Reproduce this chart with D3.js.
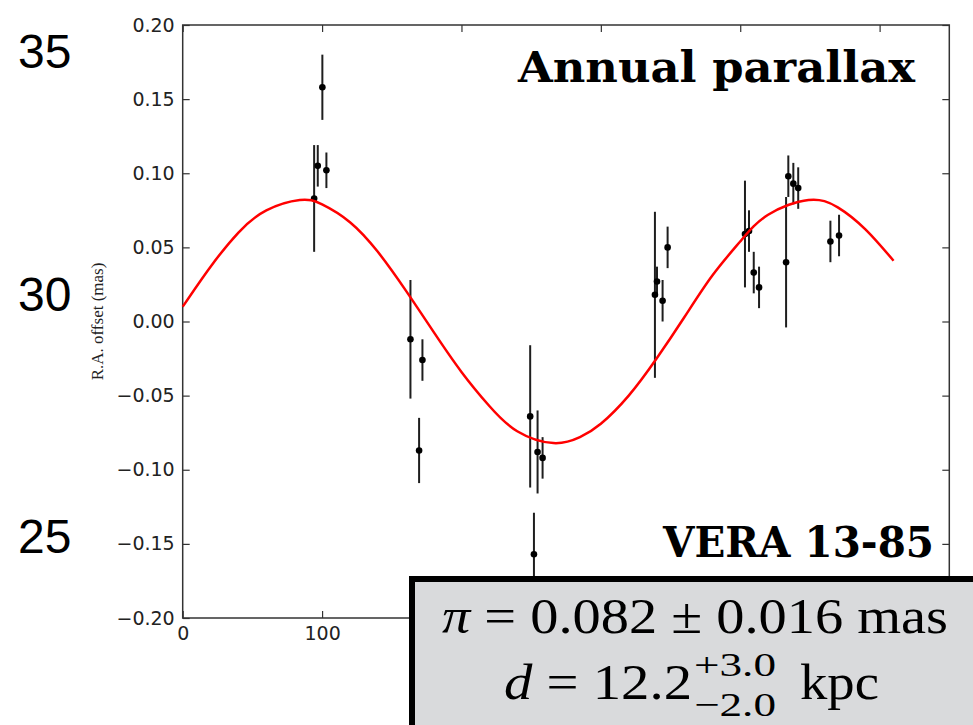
<!DOCTYPE html>
<html>
<head>
<meta charset="utf-8">
<script src="https://cdn.jsdelivr.net/npm/d3@7"></script>
<style>
  html, body { margin: 0; padding: 0; background: #fff; }
  svg { display: block; }
</style>
</head>
<body>
<svg id="chart" width="973" height="725"></svg>
<script>
// Observation epochs (days) and R.A. offsets (mas) with 1-sigma errors
const days = [94.3, 96.9, 100.2, 103.1, 163.4, 169.6, 172.0, 249.3, 252.0, 254.6, 258.2,
              338.8, 340.3, 344.3, 347.9, 403.4, 406.3, 409.7, 413.5, 432.9, 434.5, 438.1,
              441.6, 464.7, 470.9];
const raOffset = [0.083, 0.105, 0.158, 0.102, -0.012, -0.087, -0.026, -0.064, -0.157, -0.088, -0.092,
                  0.018, 0.027, 0.014, 0.050, 0.059, 0.061, 0.033, 0.023, 0.040, 0.098, 0.093,
                  0.090, 0.054, 0.058];
const raError = [0.036, 0.014, 0.022, 0.012, 0.040, 0.022, 0.014, 0.048, 0.028, 0.028, 0.014,
                 0.056, 0.010, 0.014, 0.014, 0.036, 0.014, 0.014, 0.014, 0.044, 0.014, 0.014,
                 0.014, 0.014, 0.014];

// Best-fit annual parallax motion
const modelDays = [0, 20, 40, 60, 84, 100, 120, 140, 160, 180, 200, 220, 240, 266, 285, 300,
                   320, 340, 360, 380, 400, 420, 449, 470, 490, 510];
const modelOffset = [0.010, 0.037, 0.060, 0.075, 0.082, 0.079, 0.067, 0.047, 0.021, -0.007, -0.034,
                     -0.057, -0.074, -0.082, -0.078, -0.069, -0.050, -0.025, 0.003, 0.031, 0.054,
                     0.072, 0.082, 0.077, 0.062, 0.041];

// Axis ticks
const xTicks = [0, 100, 200, 300, 400, 500];
const xTickLabels = ["0", "100"];
const yTicks = [-0.20, -0.15, -0.10, -0.05, 0.00, 0.05, 0.10, 0.15, 0.20];
const outerTicks = ["35", "30", "25"];

const svg = d3.select("#chart");
const plotLeft = 182.7, plotRight = 949.3, plotTop = 25, plotBottom = 618;

const x = d3.scaleLinear().domain([0, 550]).range([plotLeft, plotRight]);
const y = d3.scaleLinear().domain([-0.2, 0.2]).range([plotBottom, plotTop]);

// Outer axis labels
const outerY = d3.scalePoint().domain(outerTicks).range([68, 553]);
svg.append("g").selectAll("text").data(outerTicks).join("text")
  .attr("x", 18).attr("y", d => outerY(d))
  .attr("font-family", "'Liberation Sans', Arial, sans-serif")
  .attr("font-size", 48).attr("fill", "#000")
  .text(d => d);

const fmtY = v => (v < 0 ? "\u2212" : "") + Math.abs(v).toFixed(2);
const fmtX = v => (xTickLabels.includes(String(v)) ? String(v) : "");
const tickFont = "'DejaVu Sans', sans-serif";

// Left axis
const gL = svg.append("g").attr("transform", `translate(${plotLeft},0)`)
  .call(d3.axisLeft(y).tickValues(yTicks).tickFormat(fmtY).tickSizeInner(-7).tickSizeOuter(0).tickPadding(8));
// Right axis
const gR = svg.append("g").attr("transform", `translate(${plotRight},0)`)
  .call(d3.axisRight(y).tickValues(yTicks).tickFormat("").tickSizeInner(-7).tickSizeOuter(0));
// Bottom axis
const gB = svg.append("g").attr("transform", `translate(0,${plotBottom})`)
  .call(d3.axisBottom(x).tickValues(xTicks).tickFormat(fmtX).tickSizeInner(-7).tickSizeOuter(0).tickPadding(9));
// Top axis
const gT = svg.append("g").attr("transform", `translate(0,${plotTop})`)
  .call(d3.axisTop(x).tickValues(xTicks).tickFormat("").tickSizeInner(-7).tickSizeOuter(0));

[gL, gR, gB, gT].forEach(g => {
  g.select(".domain").remove();
  g.selectAll(".tick line").attr("stroke", "#333").attr("stroke-width", 1.2);
  g.selectAll(".tick text").attr("font-family", tickFont).attr("font-size", 19).attr("fill", "#222");
});

// Plot frame
svg.append("rect")
  .attr("x", plotLeft).attr("y", plotTop)
  .attr("width", plotRight - plotLeft).attr("height", plotBottom - plotTop)
  .attr("fill", "none").attr("stroke", "#333").attr("stroke-width", 1.5);

// Y axis title
svg.append("text")
  .attr("transform", `translate(103,${(plotTop + plotBottom) / 2}) rotate(-90)`)
  .attr("text-anchor", "middle")
  .attr("font-family", "'Liberation Serif', 'Times New Roman', serif")
  .attr("font-size", 17).attr("fill", "#222")
  .text("R.A. offset (mas)");

// Error bars and points
const pts = days.map((d, i) => ({ t: d, v: raOffset[i], e: raError[i] }));
const gP = svg.append("g");
gP.selectAll("line").data(pts).join("line")
  .attr("x1", d => x(d.t)).attr("x2", d => x(d.t))
  .attr("y1", d => y(d.v + d.e)).attr("y2", d => y(d.v - d.e))
  .attr("stroke", "#1e1e1e").attr("stroke-width", 2);
gP.selectAll("circle").data(pts).join("circle")
  .attr("cx", d => x(d.t)).attr("cy", d => y(d.v)).attr("r", 3.3)
  .attr("fill", "#000");

// Model curve
const line = d3.line().x(d => x(d[0])).y(d => y(d[1])).curve(d3.curveNatural);
svg.append("path")
  .datum(modelDays.map((d, i) => [d, modelOffset[i]]))
  .attr("d", line)
  .attr("fill", "none").attr("stroke", "#ff0000").attr("stroke-width", 2.5);

// Panel titles
const titleFont = "'DejaVu Serif', serif";
svg.append("text")
  .attr("x", 915).attr("y", 82).attr("text-anchor", "end")
  .attr("font-family", titleFont).attr("font-weight", "bold").attr("font-size", 42)
  .attr("textLength", 397).attr("lengthAdjust", "spacingAndGlyphs")
  .text("Annual parallax");
svg.append("text")
  .attr("x", 934).attr("y", 557).attr("text-anchor", "end")
  .attr("font-family", titleFont).attr("font-weight", "bold").attr("font-size", 42)
  .attr("textLength", 271).attr("lengthAdjust", "spacingAndGlyphs")
  .text("VERA 13-85");

// Result box
svg.append("rect")
  .attr("x", 412).attr("y", 579).attr("width", 600).attr("height", 200)
  .attr("fill", "#d9dadc").attr("stroke", "#000").attr("stroke-width", 6);

const mathFont = "'Liberation Serif', 'Times New Roman', serif";
const l1 = svg.append("text")
  .attr("x", 442).attr("y", 633)
  .attr("font-family", mathFont).attr("font-size", 50)
  .attr("textLength", 506).attr("lengthAdjust", "spacingAndGlyphs");
l1.append("tspan").attr("font-style", "italic").text("\u03c0");
l1.append("tspan").text(" = 0.082 \u00b1 0.016 mas");

const l2 = svg.append("text")
  .attr("x", 504).attr("y", 699)
  .attr("font-family", mathFont).attr("font-size", 50)
  .attr("textLength", 188).attr("lengthAdjust", "spacingAndGlyphs");
l2.append("tspan").attr("font-style", "italic").text("d");
l2.append("tspan").text(" = 12.2");
svg.append("text")
  .attr("x", 694).attr("y", 676)
  .attr("font-family", mathFont).attr("font-size", 34)
  .attr("textLength", 82).attr("lengthAdjust", "spacingAndGlyphs")
  .text("+3.0");
svg.append("text")
  .attr("x", 694).attr("y", 716)
  .attr("font-family", mathFont).attr("font-size", 34)
  .attr("textLength", 82).attr("lengthAdjust", "spacingAndGlyphs")
  .text("\u22122.0");
svg.append("text")
  .attr("x", 800).attr("y", 699)
  .attr("font-family", mathFont).attr("font-size", 50)
  .attr("textLength", 79).attr("lengthAdjust", "spacingAndGlyphs")
  .text("kpc");
</script>
</body>
</html>
